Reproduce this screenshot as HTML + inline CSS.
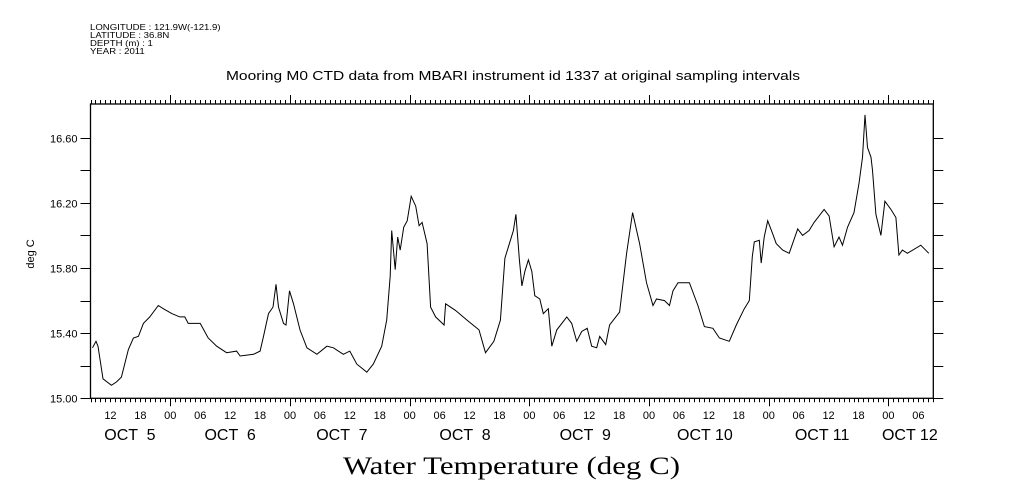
<!DOCTYPE html>
<html><head><meta charset="utf-8"><style>
body{margin:0;background:#fff;}
svg{display:block;}
text{font-family:"Liberation Sans",sans-serif;fill:#000;}
</style></head><body>
<svg id="chart" width="1009" height="504" viewBox="0 0 1009 504" xmlns="http://www.w3.org/2000/svg">
<rect width="1009" height="504" fill="#fff"/>
<g font-size="8" transform="translate(90,0) scale(1.2,1)">
<text x="0" y="30">LONGITUDE : 121.9W(-121.9)</text>
<text x="0" y="38">LATITUDE : 36.8N</text>
<text x="0" y="46">DEPTH (m) : 1</text>
<text x="0" y="54">YEAR : 2011</text>
</g>
<text x="226" y="80" font-size="12.5" textLength="574" lengthAdjust="spacingAndGlyphs">Mooring M0 CTD data from MBARI instrument id 1337 at original sampling intervals</text>
<text transform="translate(34,254) rotate(-90)" font-size="11" text-anchor="middle">deg C</text>
<text x="343" y="474" font-size="25" textLength="337" lengthAdjust="spacingAndGlyphs" style="font-family:'Liberation Serif',serif">Water Temperature (deg C)</text>
<g id="axes"></g>
<g id="series"></g>
</svg>
<script>
const hours=[8.4,9.1,9.5,10.5,12.2,13.2,14.2,15.6,16.6,17.6,18.6,19.9,21.6,22.6,24.3,25.9,26.9,27.6,30.0,31.6,33.3,35.3,37.3,38.0,40.7,42.0,42.7,43.7,44.6,45.2,45.7,46.7,47.2,47.9,48.7,50.0,51.4,53.4,55.4,56.7,58.7,60.0,61.4,63.4,64.7,66.4,67.4,68.1,68.4,69.1,69.6,70.1,70.8,71.5,72.3,73.2,73.9,74.5,75.5,76.2,77.2,78.9,79.2,81.2,83.5,85.9,87.2,88.9,90.2,91.1,91.8,92.8,93.3,94.0,94.5,95.1,95.8,96.5,97.1,98.1,98.8,99.8,100.5,101.5,103.5,104.5,105.5,106.5,107.6,108.5,109.5,110.1,111.3,112.1,114.1,115.5,116.7,118.1,119.5,120.8,121.5,123.1,124.1,124.8,125.8,128.1,129.8,131.1,132.8,134.1,136.1,137.5,139.1,140.1,140.7,141.1,142.1,142.5,143.1,143.8,144.8,145.5,146.8,148.1,149.8,150.8,152.1,153.1,155.1,156.1,157.1,158.1,158.8,159.8,161.1,162.1,162.8,163.3,163.8,164.5,164.8,165.5,166.5,167.3,168.5,169.5,170.1,170.8,171.8,174.5,176.1];
const temps=[15.31,15.35,15.32,15.12,15.08,15.10,15.13,15.30,15.37,15.38,15.46,15.50,15.57,15.55,15.52,15.50,15.50,15.46,15.46,15.37,15.32,15.28,15.29,15.26,15.27,15.29,15.38,15.52,15.56,15.70,15.56,15.46,15.45,15.66,15.58,15.42,15.31,15.27,15.32,15.31,15.27,15.29,15.21,15.16,15.21,15.32,15.48,15.75,16.03,15.79,15.99,15.91,16.05,16.09,16.24,16.18,16.06,16.08,15.95,15.56,15.50,15.45,15.58,15.54,15.48,15.42,15.28,15.35,15.48,15.86,15.93,16.03,16.13,15.85,15.69,15.78,15.85,15.78,15.63,15.61,15.52,15.55,15.32,15.42,15.50,15.46,15.35,15.41,15.43,15.32,15.31,15.38,15.33,15.45,15.53,15.89,16.14,15.95,15.71,15.57,15.61,15.60,15.57,15.66,15.71,15.71,15.57,15.44,15.43,15.37,15.35,15.45,15.55,15.60,15.87,15.96,15.97,15.83,15.99,16.09,16.01,15.95,15.91,15.89,16.04,16.00,16.03,16.08,16.16,16.12,15.93,15.99,15.94,16.05,16.14,16.32,16.48,16.74,16.54,16.48,16.40,16.13,16.00,16.21,16.16,16.11,15.88,15.91,15.89,15.94,15.89];
const yTicks=[15.0,15.2,15.4,15.6,15.8,16.0,16.2,16.4,16.6];
const yTickLabels=["15.00","","15.40","","15.80","","16.20","","16.60"];
const dayLabels=["OCT  5","OCT  6","OCT  7","OCT  8","OCT  9","OCT 10","OCT 11","OCT 12"];
const dayLabelHours=[15.9,36,58.4,83.1,107.2,131.2,154.7,172.3];
const H0=8,H1=177,V0=15.0,V1=16.807;
const L=90.5,R=933.3,T=104,B=398.3;
const xs=h=>L+(h-H0)*(R-L)/(H1-H0);
const ys=v=>B-(v-V0)*(B-T)/(V1-V0);
const NS="http://www.w3.org/2000/svg";
const ax=document.getElementById('axes');
function mk(tag,attrs,parent){const e=document.createElementNS(NS,tag);for(const k in attrs)e.setAttribute(k,attrs[k]);parent.appendChild(e);return e;}
let box=mk('rect',{x:L,y:T,width:R-L,height:B-T,fill:'none',stroke:'#000','stroke-width':1.3},ax);


for(let h=H0;h<=H1;h++){
  const x=Math.round(xs(h))+0.5;const day=h%24===0;
  const lb=day?8:4;
  let t=mk('line',{x1:x,x2:x,y1:B,y2:B+lb,stroke:'#000','stroke-width':1},ax);
  
  
  let t2=mk('line',{x1:x,x2:x,y1:T,y2:T-(day?9:4),stroke:'#000','stroke-width':1},ax);
  
  
  if(h%6===0){
    let tx=mk('text',{x:xs(h),y:419,'font-size':11,'text-anchor':'middle'},ax);
    tx.textContent=String(h%24).padStart(2,'0');
    
    
  }
}
dayLabels.forEach((s,i)=>{
  let tx=mk('text',{x:xs(dayLabelHours[i]),y:440,'font-size':16,'text-anchor':'middle'},ax);
  tx.style.whiteSpace='pre';
  tx.textContent=s;
  
  
});
yTicks.forEach((v,i)=>{
  const y=Math.round(ys(v))+0.5;
  let a=mk('line',{x1:L-10,x2:L,y1:y,y2:y,stroke:'#000'},ax);
  
  
  let b=mk('line',{x1:R,x2:R+10,y1:y,y2:y,stroke:'#000'},ax);
  
  
  if(yTickLabels[i]){
    let tx=mk('text',{x:L-13,y:y+4,'font-size':11,'text-anchor':'end'},ax);
    tx.textContent=yTickLabels[i];
    
    
  }
});
const pts=hours.map((h,i)=>xs(h).toFixed(1)+','+ys(temps[i]).toFixed(1)).join(' ');
let line=mk('polyline',{points:pts,fill:'none',stroke:'#000','stroke-width':1},document.getElementById('series'));


</script>
</body></html>
